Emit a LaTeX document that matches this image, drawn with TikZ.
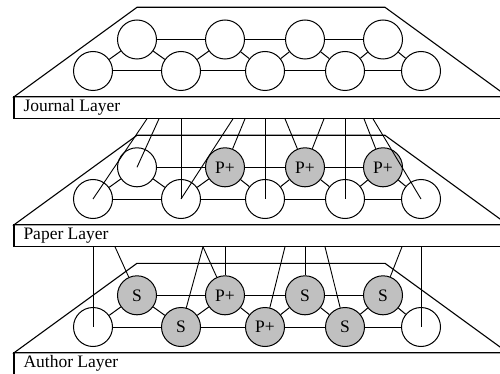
\documentclass[tikz,border=0pt]{standalone}
\usepackage{fontspec}
\setmainfont{Liberation Serif}
\definecolor{lightgr}{RGB}{192,192,192}
\begin{document}
\begin{tikzpicture}[x=1pt,y=-1pt,line width=1pt,
  nd/.style={circle,draw,minimum size=39pt,inner sep=0pt,font=\fontsize{17.5}{20}\selectfont},
  gr/.style={nd,fill=lightgr},
  lay/.style={draw,line width=1.1pt},
  lbl/.style={anchor=west,inner sep=0pt,font=\fontsize{17.5}{20}\selectfont},
  conn/.style={line width=0.9pt}]
\clip (0,0) rectangle (500,374);
% layer outlines
\foreach \T/\nm/\txt in {7.3/J/Journal Layer,135.3/P/Paper Layer,263.3/A/Author Layer}{
  \draw[lay] (137,\T) -- (385,\T) -- (508,\T+89.5) -- (14,\T+89.5) -- cycle;
  \draw[lay] (14,\T+89.5) rectangle (508,\T+111.5);
  \node[lbl] (\nm lab) at (23,\T+100.5) {\txt};
}
% Journal layer nodes
\node[nd] (Jt1) at (137,39.5) {};
\node[nd] (Jt2) at (225,39.5) {};
\node[nd] (Jt3) at (305,39.5) {};
\node[nd] (Jt4) at (383,39.5) {};
\node[nd] (Jb1) at (93,71) {};
\node[nd] (Jb2) at (181,71) {};
\node[nd] (Jb3) at (265,71) {};
\node[nd] (Jb4) at (345,71) {};
\node[nd] (Jb5) at (421,71) {};
% Paper layer nodes
\node[nd] (Pt1) at (137,167.3) {};
\node[gr] (Pt2) at (225,167.3) {P+};
\node[gr] (Pt3) at (305,167.3) {P+};
\node[gr] (Pt4) at (383,167.3) {P+};
\node[nd] (Pb1) at (93,199) {};
\node[nd] (Pb2) at (181,199) {};
\node[nd] (Pb3) at (265,199) {};
\node[nd] (Pb4) at (345,199) {};
\node[nd] (Pb5) at (421,199) {};
% Author layer nodes
\node[gr] (At1) at (137,295.3) {S};
\node[gr] (At2) at (225,295.3) {P+};
\node[gr] (At3) at (305,295.3) {S};
\node[gr] (At4) at (383,295.3) {S};
\node[nd] (Ab1) at (93,327) {};
\node[gr] (Ab2) at (181,327) {S};
\node[gr] (Ab3) at (265,327) {P+};
\node[gr] (Ab4) at (345,327) {S};
\node[nd] (Ab5) at (421,327) {};
% in-layer edges
\foreach \L in {J,P,A}{
  \draw (\L t1) -- (\L t2) -- (\L t3) -- (\L t4);
  \draw (\L b1) -- (\L b2) -- (\L b3) -- (\L b4) -- (\L b5);
  \foreach \i/\j in {1/2,2/3,3/4,4/5}{
    \draw (\L t\i) -- (\L b\i);
  }
  \foreach \i/\j in {1/2,2/3,3/4,4/5}{
    \draw (\L t\i) -- (\L b\j);
  }
}
% connector start points on label box bottoms
\foreach \n/\x in {1/147,2/159,3/181,4/233,5/245,6/265,7/285,8/324,9/345,10/364,11/373}{
  \coordinate (j\n) at (\x,118.8);
}
\foreach \n/\x in {1/93,2/115,3/203,4/225,5/285,6/305,7/325,8/402,9/421}{
  \coordinate (p\n) at (\x,246.8);
}
% journal -> paper
\draw[conn] (j1) -- (Pb1.center);
\draw[conn] (j2) -- (Pt1.center);
\draw[conn] (j3) -- (Pb2.center);
\draw[conn] (j4) -- (Pb2.center);
\draw[conn] (j5) -- (Pt2);
\draw[conn] (j6) -- (Pb3.center);
\draw[conn] (j7) -- (Pt3);
\draw[conn] (j8) -- (Pt3);
\draw[conn] (j9) -- (Pb4.center);
\draw[conn] (j10) -- (Pt4);
\draw[conn] (j11) -- (Pb5.center);
% paper -> author
\draw[conn] (p1) -- (Ab1.center);
\draw[conn] (p2) -- (At1);
\draw[conn] (p3) -- (Ab2);
\draw[conn] (p3) -- (At2);
\draw[conn] (p4) -- (At2);
\draw[conn] (p5) -- (Ab3);
\draw[conn] (p6) -- (At3);
\draw[conn] (p7) -- (Ab4);
\draw[conn] (p8) -- (At4);
\draw[conn] (p9) -- (Ab5.center);
\end{tikzpicture}
\end{document}
